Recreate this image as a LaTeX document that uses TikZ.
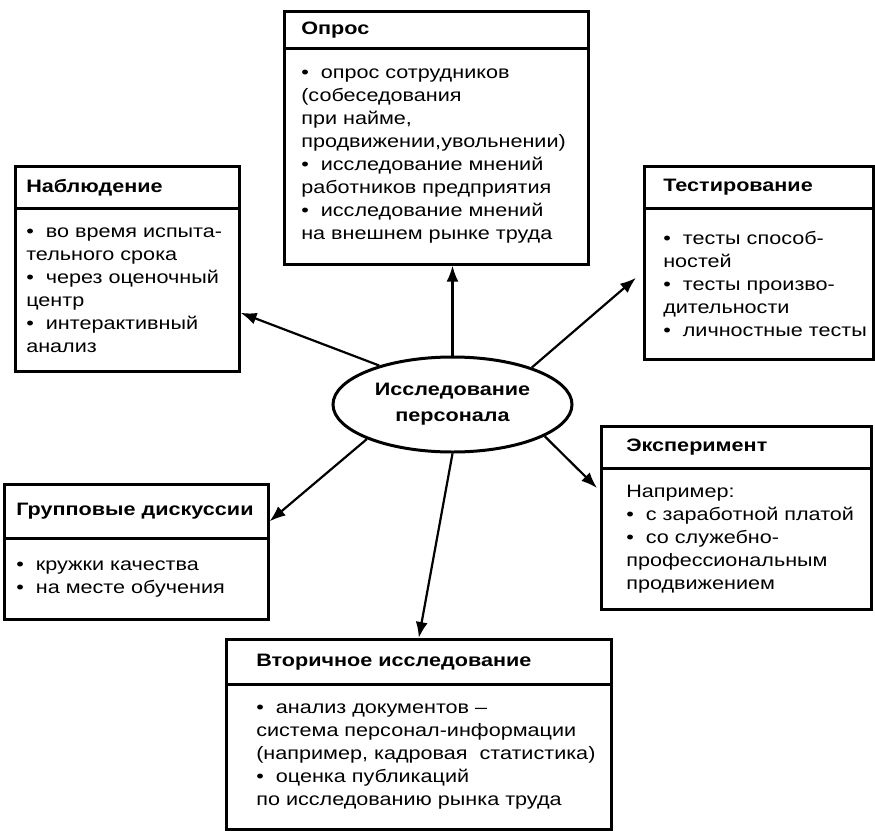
\documentclass[tikz,border=0pt]{standalone}
\usepackage{fontspec}
\setmainfont{Liberation Sans}[FakeStretch=1.2]
\usepackage{tikz}
\usetikzlibrary{shapes.geometric, arrows.meta}
\hyphenpenalty=10000
\exhyphenpenalty=10000

\begin{document}
\begin{tikzpicture}[
    x=1pt, y=-1pt,
    font=\fontsize{18}{23}\selectfont,
    head/.style={draw, line width=2.6pt, anchor=north west, align=left, inner ysep=0pt, font=\fontsize{18}{23}\selectfont\bfseries},
    body/.style={draw, line width=2.6pt, anchor=north west, align=left, inner ysep=0pt},
    topic/.style={ellipse, draw, line width=3pt, minimum width=239pt, minimum height=95pt, align=center, font=\fontsize{18}{26}\selectfont\bfseries},
    link/.style={line width=2.2pt, -{Latex[length=16pt,width=12pt]}}
]
    \useasboundingbox (0,0) rectangle (875,835);

    % Центр
    \node[topic] (ell) at (452.5,404.5) {Исследование\\персонала};

    % Блоки
    \node[head, text width=270pt, inner xsep=17pt, minimum height=37pt] (oprosH) at (283,10) {Опрос};
    \node[body, text width=270pt, inner xsep=17pt, minimum height=216pt] (oprosB) at (283,47)
        {•~~опрос~сотрудников\\(собеседования\\при~найме,\\продвижении,увольнении)\\•~~исследование~мнений\\работников~предприятия\\•~~исследование~мнений\\на~внешнем~рынке~труда};

    \node[head, text width=202pt, inner xsep=11pt, minimum height=42pt] (nabH) at (14,165) {Наблюдение};
    \node[body, text width=202pt, inner xsep=11pt, minimum height=163pt] (nabB) at (14,207)
        {•~~во~время~испыта-\\тельного~срока\\•~~через~оценочный\\центр\\•~~интерактивный\\анализ};

    \node[head, text width=191pt, inner xsep=19pt, minimum height=42pt] (testH) at (643,165) {Тестирование};
    \node[body, text width=191pt, inner xsep=19pt, minimum height=151pt] (testB) at (643,207)
        {•~~тесты~способ-\\ностей\\•~~тесты~произво-\\дительности\\•~~личностные~тесты};

    \node[head, text width=220pt, inner xsep=25pt, minimum height=42pt] (expH) at (600,425) {Эксперимент};
    \node[body, text width=220pt, inner xsep=25pt, minimum height=141pt] (expB) at (600,467)
        {Например:\\•~~с~заработной~платой\\•~~со~служебно-\\профессиональным\\продвижением};

    \node[head, text width=240pt, inner xsep=12pt, minimum height=54pt] (grpH) at (3,483) {Групповые~дискуссии};
    \node[body, text width=240pt, inner xsep=12pt, minimum height=81pt] (grpB) at (3,537)
        {•~~кружки~качества\\•~~на~месте~обучения};

    \node[head, text width=325pt, inner xsep=30pt, minimum height=45pt] (vtorH) at (225,638) {Вторичное~исследование};
    \node[body, text width=325pt, inner xsep=30pt, minimum height=145pt] (vtorB) at (225,683)
        {•~~анализ~документов~–\\система~персонал-информации\\(например,~кадровая~~статистика)\\•~~оценка~публикаций\\по~исследованию~рынка~труда};

    % Стрелки
    \draw[link] (ell.north) -- (ell.north |- oprosB.south);
    \draw[link] (ell.152) -- ([yshift=-23pt]nabB.east);
    \draw[link] (ell.25) -- ([xshift=-7pt, yshift=6pt]testB.west);
    \draw[link] (ell.341) -- ([xshift=-3pt, yshift=-21pt]expB.north west);
    \draw[link] (ell.202) -- ([yshift=-10pt]grpH.east);
    \draw[link] (ell.south) -- (vtorH.north);
\end{tikzpicture}
\end{document}
